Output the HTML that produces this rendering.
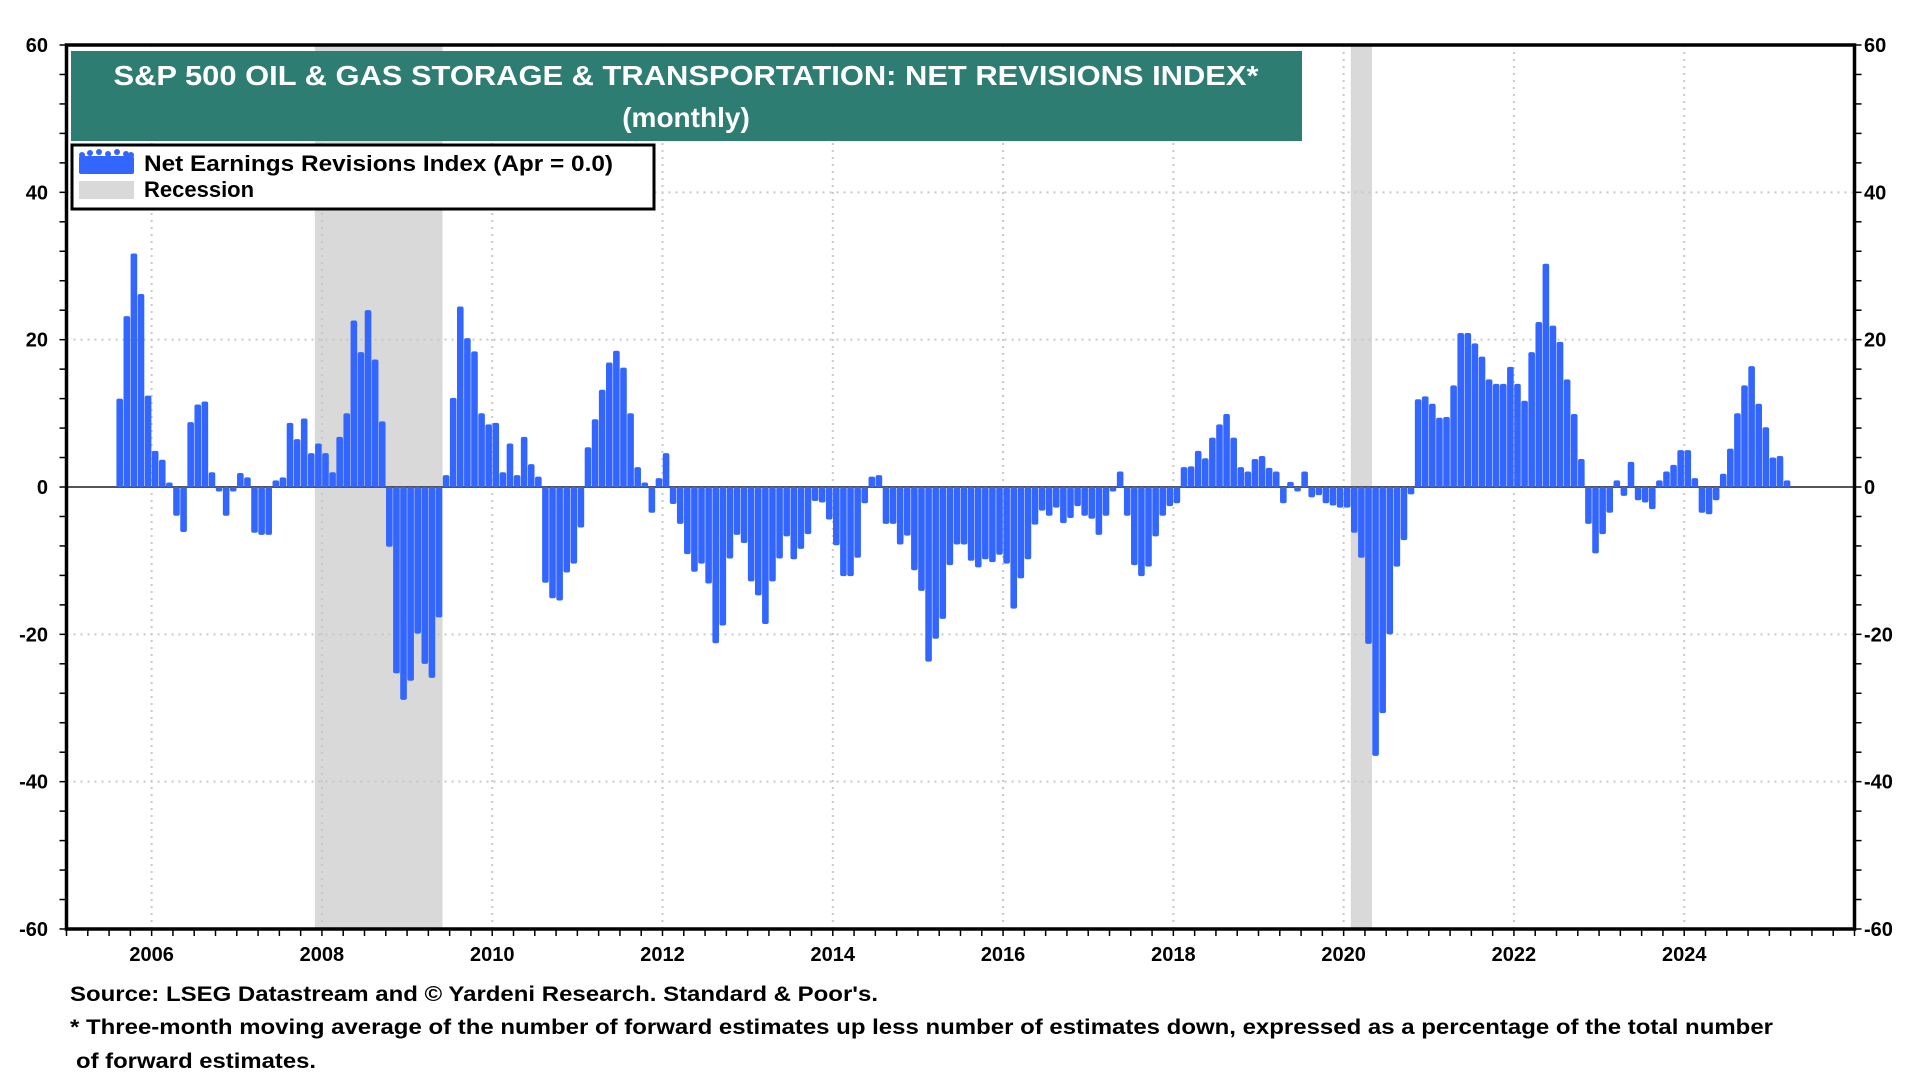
<!DOCTYPE html>
<html><head><meta charset="utf-8"><title>S&amp;P 500 Oil &amp; Gas Storage &amp; Transportation: Net Revisions Index</title>
<style>
html,body{margin:0;padding:0;background:#fff;}
svg{display:block;font-family:"Liberation Sans",Arial,sans-serif;font-weight:bold;}
</style></head>
<body>
<svg id="chart" width="1920" height="1080" viewBox="0 0 1920 1080" xmlns="http://www.w3.org/2000/svg">
  <rect x="0" y="0" width="1920" height="1080" fill="#fff"/>
  <g id="recessions"></g>
  <g id="grid"></g>
  <line id="zeroLine" stroke="#555" stroke-width="2"/>
  <g id="bars"></g>
  <rect x="66.5" y="45" width="1788" height="884" fill="none" stroke="#000" stroke-width="3.5"/>
  <g id="axes"></g>

  <g>
    <rect x="71" y="51" width="1231" height="90" fill="#2E7D72"/>
    <text x="686" y="85" text-anchor="middle" fill="#fff" font-size="28" textLength="1145" lengthAdjust="spacingAndGlyphs">S&amp;P 500 OIL &amp; GAS STORAGE &amp; TRANSPORTATION: NET REVISIONS INDEX*</text>
    <text x="686" y="127" text-anchor="middle" fill="#fff" font-size="28">(monthly)</text>
  </g>

  <g>
    <rect x="72" y="145" width="582" height="64" fill="#fff" stroke="#000" stroke-width="3"/>
    <g fill="#3366FF">
      <rect x="79" y="156" width="55" height="18" rx="2"/>
      <circle cx="82" cy="155" r="3"/><circle cx="90" cy="153" r="3"/><circle cx="99" cy="152" r="3"/><circle cx="108" cy="154" r="3"/><circle cx="117" cy="152" r="3"/><circle cx="126" cy="154" r="3"/><circle cx="131" cy="155" r="3"/>
    </g>
    <text x="144" y="171" font-size="22" textLength="469" lengthAdjust="spacingAndGlyphs">Net Earnings Revisions Index (Apr  = 0.0)</text>
    <rect x="79" y="181" width="55" height="18" fill="#D9D9D9"/>
    <text x="144" y="197" font-size="22">Recession</text>
  </g>

  <text x="70" y="1001" font-size="21" textLength="808" lengthAdjust="spacingAndGlyphs">Source: LSEG Datastream and © Yardeni Research. Standard &amp; Poor's.</text>
  <text x="70" y="1034" font-size="21" textLength="1703" lengthAdjust="spacingAndGlyphs">* Three-month moving average of the number of forward estimates up less number of estimates down, expressed as a percentage of the total number</text>
  <text x="76" y="1068" font-size="21" textLength="240" lengthAdjust="spacingAndGlyphs">of forward estimates.</text>
</svg>
<script>
// Month index 0 = Jan 2005
const firstMonthIndex = 7; // Aug 2005
const values2005to2010 = [11.8,23,31.5,26,12.2,4.7,3.5,0.4,-3.7,-5.9,8.6,11,11.4,1.8,-0.3,-3.7,-0.1,1.7,1.1,-6,-6.3,-6.3,0.7,1.1,8.5,6.3,9.1,4.4,5.7,4.4,1.8,6.6,9.8,22.4,18.1,23.8,17.1,8.7,-7.9,-25.1,-28.7,-26.1,-19.7,-23.8,-25.7,-17.5,1.4,11.9,24.3,20,18.2,9.8,8.3,8.5,1.8,5.7,1.4,6.6,2.9,1.2,-12.8,-14.9];
const values2010to2015 = [-15.2,-11.4,-10.2,-5.3,5.2,9,13,16.7,18.3,16,9.8,2.5,0.1,-3.3,1,4.4,-2.1,-4.8,-8.9,-11.3,-10.2,-12.9,-21,-18.6,-9.5,-6.3,-7.4,-12.6,-14.5,-18.4,-12.6,-9.5,-6.5,-9.6,-8.2,-6.2,-1.7,-1.9,-4.2,-7.7,-11.9,-11.9,-9.4,-2,1.2,1.4,-4.8,-4.8,-7.6,-6.4,-11.1,-13.9,-23.5,-20.4,-17.7,-10.4,-7.6,-7.6,-9.8,-10.7,-9.6,-10,-9,-10.2];
const values2016to2020 = [-16.3,-12.2,-9.6,-4.9,-3,-3.7,-2.6,-4.7,-4,-2.4,-3.7,-4.1,-6.3,-3.7,-0.3,1.9,-3.7,-10.4,-11.9,-10.6,-6.5,-3.7,-2.4,-2,2.5,2.6,4.7,3.7,6.5,8.3,9.7,6.5,2.5,1.9,3.6,4,2.4,1.9,-2,0.5,-0.3,1.9,-1.2,-0.9,-2,-2.3,-2.6,-2.6,-6,-9.4,-21.1,-36.3,-30.5,-19.8,-10.6,-7,-0.8];
const values2020to2025 = [11.7,12.1,11.1,9.2,9.3,13.6,20.7,20.7,19.3,17.5,14.4,13.8,13.8,16.1,13.8,11.5,18.1,22.2,30.1,21.7,19.5,14.4,9.7,3.6,-4.8,-8.8,-6.2,-3.3,0.7,-1,3.2,-1.6,-1.9,-2.8,0.7,1.9,2.8,4.8,4.8,1,-3.3,-3.5,-1.6,1.6,5,9.8,13.6,16.2,11.1,7.9,3.8,4,0.7];
const yTickLabels = ["-60","-40","-20","0","20","40","60"];
const xTickLabels = ["2006","2008","2010","2012","2014","2016","2018","2020","2022","2024"];
const recessionStarts = ["2007-12","2020-02"];
const recessionEnds = ["2009-06","2020-05"];

const NS = "http://www.w3.org/2000/svg";
const X0 = 66.5, X1 = 1854.5, Y0 = 45, Y1 = 929;
const yearMin = 2005, yearMax = 2026, vMin = -60, vMax = 60;
function xYear(t){ return X0 + (t - yearMin) / (yearMax - yearMin) * (X1 - X0); }
function xMonth(m){ return xYear(yearMin + m / 12); }
function yVal(v){ return Y1 - (v - vMin) / (vMax - vMin) * (Y1 - Y0); }
function ym(s){ const p = s.split("-"); return (+p[0] - yearMin) * 12 + (+p[1] - 1); }
function mk(tag, attrs, parent){ const e = document.createElementNS(NS, tag); for (const k in attrs) e.setAttribute(k, attrs[k]); parent.appendChild(e); return e; }

const allValues = values2005to2010.concat(values2010to2015, values2016to2020, values2020to2025);

const rg = document.getElementById("recessions");
recessionStarts.forEach((s, i) => {
  const a = xMonth(ym(s)), b = xMonth(ym(recessionEnds[i]));
  const r = mk("rect", {x: a, y: Y0, width: b - a, height: Y1 - Y0, fill: "#D9D9D9"}, rg);
  
  
});

const gg = document.getElementById("grid");
yTickLabels.forEach(l => {
  const v = +l; if (v === 0 || v === 60 || v === -60) return;
  const ln = mk("line", {x1: X0, x2: X1, y1: yVal(v), y2: yVal(v), stroke: "#C8C8C8", "stroke-width": 2, "stroke-dasharray": "2,5"}, gg);
  
  
});
xTickLabels.forEach(l => {
  const x = xYear(+l);
  const ln = mk("line", {x1: x, x2: x, y1: Y0, y2: Y1, stroke: "#C8C8C8", "stroke-width": 2, "stroke-dasharray": "2,5"}, gg);
  
  
});

const zl = document.getElementById("zeroLine");
zl.setAttribute("x1", X0); zl.setAttribute("x2", X1);
zl.setAttribute("y1", yVal(0)); zl.setAttribute("y2", yVal(0));

const bg = document.getElementById("bars");
const bw = (xMonth(1) - xMonth(0)) - 0.5;
allValues.forEach((v, i) => {
  const m = firstMonthIndex + i;
  const cx = xMonth(m + 0.5);
  const y0 = yVal(0), yv = yVal(v);
  let top = Math.min(y0, yv), h = Math.abs(yv - y0);
  if (h < 3) { h = 3; top = v >= 0 ? y0 - 3 : y0; }
  if (v >= 0) { top -= 1.5; h += 1.5; } else { h += 1.5; }
  const r = mk("rect", {x: cx - bw / 2, y: top, width: bw, height: h, rx: 2, fill: "#3366FF"}, bg);
  
  
});

const ag = document.getElementById("axes");
for (let v = vMin; v <= vMax; v += 4) {
  const y = yVal(v);
  const t1 = mk("line", {x1: X0 - 7, x2: X0, y1: y, y2: y, stroke: "#000", "stroke-width": 1.5}, ag);
  
  
  const t2 = mk("line", {x1: X1, x2: X1 + 7, y1: y, y2: y, stroke: "#000", "stroke-width": 1.5}, ag);
  
  
}
yTickLabels.forEach(l => {
  const y = yVal(+l) + 7;
  const a = mk("text", {x: 48, y: y, "text-anchor": "end", "font-size": 20}, ag);
  a.textContent = l;
  
  
  const b = mk("text", {x: 1864, y: y, "text-anchor": "start", "font-size": 20}, ag);
  b.textContent = l;
  
  
});
for (let q = 0; q <= (yearMax - yearMin) * 4; q++) {
  const x = xYear(yearMin + q / 4);
  const t = mk("line", {x1: x, x2: x, y1: Y1, y2: Y1 + 7, stroke: "#000", "stroke-width": 1.5}, ag);
  
  
}
xTickLabels.forEach(l => {
  const t = mk("text", {x: xYear(+l), y: 961, "text-anchor": "middle", "font-size": 20}, ag);
  t.textContent = l;
  
  
});
</script>
</body></html>
